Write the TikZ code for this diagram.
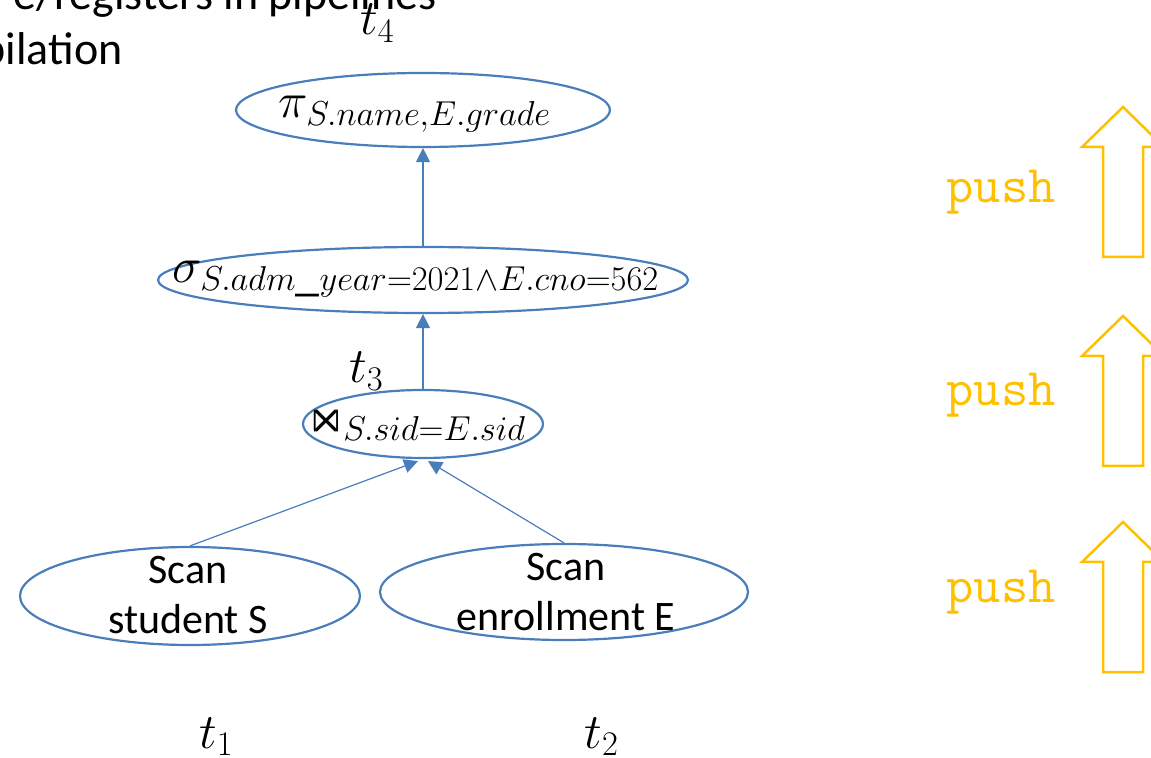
\documentclass[tikz,border=0pt]{standalone}
\usepackage{amssymb}
\usepackage[no-math]{fontspec}
\setmainfont{Carlito}
\usetikzlibrary{shapes.geometric,arrows.meta,calc}

\definecolor{opblue}{RGB}{74,126,187}
\definecolor{pushgold}{RGB}{255,192,0}

\tikzset{
  opnode/.style={ellipse, draw=opblue, line width=1.1pt, inner sep=0pt},
  flow/.style={draw=opblue, line width=0.6pt, -{Triangle[length=7pt,width=7pt]}},
  oplbl/.style={anchor=base, inner sep=0pt, font=\fontsize{24}{28}\selectfont},
  scanlbl/.style={align=center, inner sep=0pt, font=\fontsize{21}{25}\selectfont},
  tlbl/.style={anchor=base west, inner sep=0pt, font=\fontsize{23}{26}\selectfont},
  pushlbl/.style={anchor=base west, inner sep=0pt, text=pushgold,
    font=\ttfamily\fontsize{26.5}{30}\selectfont},
  headline/.style={anchor=base east, inner sep=0pt, font=\fontsize{23}{27}\selectfont},
  pushoutline/.style={draw=pushgold, line width=1.25pt, line join=miter},
  pushshape/.pic={
    \draw[pushoutline] (0,0) -- (-41,40) -- (-20,40) -- (-20,150)
      -- (20,150) -- (20,40) -- (41,40) -- cycle;
  },
}

\begin{document}
\begin{tikzpicture}[x=0.5pt,y=-0.5pt]
\useasboundingbox (0,0) rectangle (1151,758);
\clip (0,0) rectangle (1151,758);

% heading lines running in from the left edge
\node[headline] (head1) at (437,10) {e/registers in pipelines};
\node[headline] (head2) at (123,65) {pilation};

% operator tree
\node[opnode, minimum width=187pt, minimum height=37pt] (proj) at (423,110) {};
\node[opnode, minimum width=265pt, minimum height=33pt] (sel) at (423,280) {};
\node[opnode, minimum width=120pt, minimum height=34pt] (join) at (423,424) {};
\node[opnode, minimum width=170pt, minimum height=49pt] (scanS) at (190,596) {};
\node[opnode, minimum width=184pt, minimum height=48pt] (scanE) at (564,592) {};

\node[oplbl] (projtxt) at (415,118) {$\pi_{S.name,E.grade}$};
\node[oplbl] (seltxt) at (416,283) {$\sigma_{S.adm\_year=2021\wedge E.cno=562}$};
\node[oplbl, font=\fontsize{23}{27}\selectfont] (jointxt) at (418,433) {$\Join_{S.sid=E.sid}$};
\node[scanlbl] (scanStxt) at (188,595) {Scan\\student S};
\node[scanlbl] (scanEtxt) at (566,592) {Scan\\enrollment E};

\draw[flow] (sel.north) -- (proj.south);
\draw[flow] (join.north) -- (sel.south);
\draw[flow] (scanS.north) -- ($(join.south)+(-5,2)$);
\draw[flow] (scanE.north) -- ($(join.south)+(5,2)$);

% intermediate results
\node[tlbl] (t4) at (360,35) {$t_4$};
\node[tlbl] (t3) at (349,383) {$t_3$};
\node[tlbl] (t1) at (199,748) {$t_1$};
\node[tlbl] (t2) at (584,748) {$t_2$};

% push direction
\node[pushlbl] (push1) at (946,203) {push};
\node[pushlbl] (push2) at (946,406) {push};
\node[pushlbl] (push3) at (946,603) {push};
\pic at (1123,107) {pushshape};
\pic at (1123,316) {pushshape};
\pic at (1123,522) {pushshape};
\end{tikzpicture}
\end{document}
